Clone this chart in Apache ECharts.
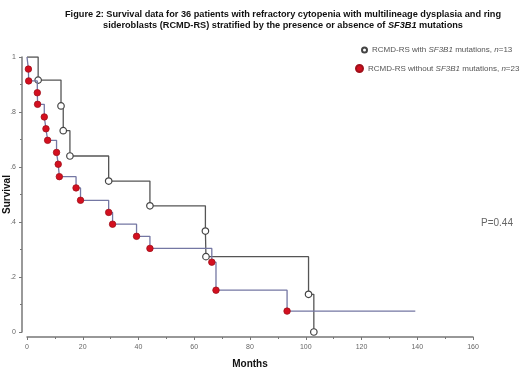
<!DOCTYPE html>
<html>
<head>
<meta charset="utf-8">
<script src="https://cdn.jsdelivr.net/npm/echarts@6/dist/echarts.min.js"></script>
<style>
  html, body { margin: 0; padding: 0; background: #fff; }
  #cht { width: 520px; height: 369px; }
</style>
</head>
<body>
<div id="cht"></div>
<script>
const cht = echarts.init(document.getElementById('cht'));

// RCMD-RS with SF3B1 mutations (n=13): event times (months) and survival after each drop
const withTimes = [4.0, 12.2, 13.0, 15.4, 29.3, 44.1, 64.0, 64.2, 101.0, 102.9];
const withSurv = [0.916, 0.822, 0.732, 0.640, 0.549, 0.459, 0.367, 0.274, 0.137, 0.0];

// RCMD-RS without SF3B1 mutations (n=23)
const withoutTimes = [0.5, 0.6, 3.7, 3.8, 6.2, 6.8, 7.4, 10.6, 11.2, 11.6, 17.6, 19.2, 29.3, 30.7, 39.3, 44.1, 66.3, 67.8, 93.3];
const withoutSurv = [0.956, 0.913, 0.870, 0.828, 0.782, 0.739, 0.697, 0.653, 0.610, 0.565, 0.524, 0.479, 0.435, 0.392, 0.348, 0.304, 0.254, 0.152, 0.076];
const withoutLastFollowUp = 139.3;

const xTicks = [0, 20, 40, 60, 80, 100, 120, 140, 160];
const yTickLabels = { 0: '0', 0.2: '.2', 0.4: '.4', 0.6: '.6', 0.8: '.8', 1: '1' };

const nameWith = 'with';
const nameWithout = 'without';

function kmData(times, surv, endTime) {
  const pts = [{ value: [0, 1], symbol: 'none' }];
  times.forEach((t, i) => pts.push([t, surv[i]]));
  if (endTime != null) {
    pts.push({ value: [endTime, surv[surv.length - 1]], symbol: 'none' });
  }
  return pts;
}

const legendRich = {
  n: { fontFamily: 'Liberation Sans', fontSize: 8, color: '#555' },
  i: { fontFamily: 'Liberation Sans', fontSize: 8, color: '#555', fontStyle: 'italic' },
};
const legendLabel = (name) =>
  name === nameWith
    ? '{n|RCMD-RS with }{i|SF3B1}{n| mutations, }{i|n}{n|=13}'
    : '{n|RCMD-RS without }{i|SF3B1}{n| mutations, }{i|n}{n|=23}';

const axisGray = '#777';

/** @type {import("echarts").EChartsOption} */
const option = {
  animation: false,
  title: [
    {
      text: 'Figure 2: Survival data for 36 patients with refractory cytopenia with multilineage dysplasia and ring\nsideroblasts (RCMD-RS) stratified by the presence or absence of {i|SF3B1} mutations',
      left: 283,
      top: 9,
      textAlign: 'center',
      padding: 0,
      textStyle: {
        fontFamily: 'Liberation Sans',
        fontSize: 9.2,
        fontWeight: 'bold',
        color: '#111',
        lineHeight: 11,
        rich: {
          i: { fontFamily: 'Liberation Sans', fontSize: 9.2, fontWeight: 'bold', fontStyle: 'italic', color: '#111' },
        },
      },
    },
    {
      text: 'P=0.44',
      left: 481,
      top: 218,
      padding: 0,
      textStyle: { fontFamily: 'Liberation Sans', fontSize: 10, fontWeight: 'normal', color: '#666' },
    },
  ],
  legend: [
    {
      data: [nameWith],
      left: 361,
      top: 46,
      padding: 0,
      icon: 'circle',
      itemWidth: 5,
      itemHeight: 5,
      formatter: legendLabel,
      textStyle: { rich: legendRich },
    },
    {
      data: [nameWithout],
      left: 355,
      top: 64,
      padding: 0,
      icon: 'circle',
      itemWidth: 7,
      itemHeight: 7,
      formatter: legendLabel,
      textStyle: { rich: legendRich },
    },
  ],
  grid: { left: 27, right: 47, top: 57, bottom: 37, outerBoundsMode: 'none', containLabel: false },
  xAxis: {
    type: 'value',
    min: xTicks[0],
    max: xTicks[xTicks.length - 1],
    interval: 20,
    offset: 5,
    name: 'Months',
    nameLocation: 'middle',
    nameGap: 22,
    nameMoveOverlap: false,
    nameTextStyle: { fontFamily: 'Liberation Sans', fontSize: 10, fontWeight: 'bold', color: '#111' },
    axisLine: { onZero: false, lineStyle: { color: axisGray, width: 1.5 } },
    axisTick: { length: 3, lineStyle: { color: axisGray } },
    minorTick: { show: true, splitNumber: 2, length: 2, lineStyle: { color: axisGray } },
    axisLabel: { fontFamily: 'Liberation Sans', fontSize: 7, color: '#666', margin: 7 },
    splitLine: { show: false },
  },
  yAxis: {
    type: 'value',
    min: 0,
    max: 1,
    interval: 0.2,
    offset: 5,
    name: 'Survival',
    nameLocation: 'middle',
    nameGap: 10,
    nameMoveOverlap: false,
    nameTextStyle: { fontFamily: 'Liberation Sans', fontSize: 10, fontWeight: 'bold', color: '#111' },
    axisLine: { show: true, onZero: false, lineStyle: { color: axisGray, width: 1.5 } },
    axisTick: { show: true, length: 3, lineStyle: { color: axisGray } },
    minorTick: { show: true, splitNumber: 2, length: 2, lineStyle: { color: axisGray } },
    axisLabel: {
      fontFamily: 'Liberation Sans',
      fontSize: 7,
      color: '#666',
      margin: 6,
      formatter: (v) => yTickLabels[Math.round(v * 10) / 10] ?? '',
    },
    splitLine: { show: false },
  },
  series: [
    {
      name: nameWith,
      type: 'line',
      step: 'end',
      data: kmData(withTimes, withSurv),
      symbol: 'circle',
      symbolSize: 6.5,
      showAllSymbol: true,
      lineStyle: { color: '#555', width: 1.3 },
      itemStyle: { color: '#fff', borderColor: '#444', borderWidth: 1.2 },
      z: 3,
    },
    {
      name: nameWithout,
      type: 'line',
      step: 'end',
      data: kmData(withoutTimes, withoutSurv, withoutLastFollowUp),
      symbol: 'circle',
      symbolSize: 6.5,
      showAllSymbol: true,
      lineStyle: { color: '#7477a3', width: 1.3 },
      itemStyle: { color: '#d40f1f', borderColor: '#a0101a', borderWidth: 0.8 },
      z: 4,
    },
  ],
};

cht.setOption(option);
</script>
</body>
</html>
